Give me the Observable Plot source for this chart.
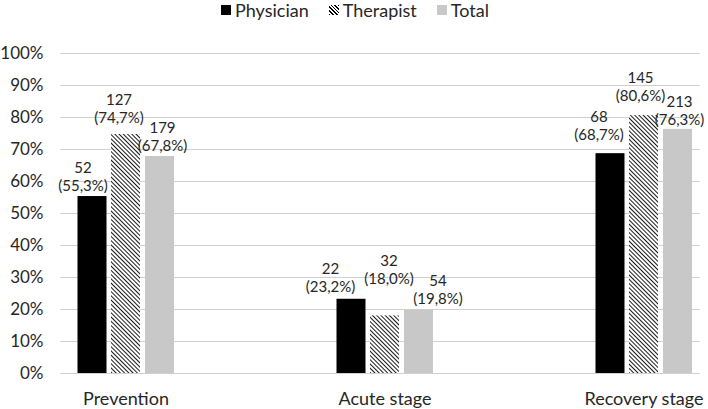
<!DOCTYPE html>
<html>
<head>
<meta charset="utf-8">
<script src="https://cdn.jsdelivr.net/npm/d3@7"></script>
<script src="https://cdn.jsdelivr.net/npm/@observablehq/plot@0.6"></script>
<style>
  body { margin: 0; background: #fff; font-family: Lato, sans-serif; color: #262626; }
  #legend { height: 20px; display: flex; justify-content: center; align-items: center; gap: 20px; font-size: 18px; padding-left: 2px; }
  .item { display: flex; align-items: center; gap: 4px; }
  .sw { width: 10px; height: 10px; display: inline-block; }
  #chart svg { display: block; }
</style>
</head>
<body>
<div id="legend"></div>
<div id="chart"></div>
<script>
const categories = ["Prevention", "Acute stage", "Recovery stage"];
const seriesNames = ["Physician", "Therapist", "Total"];
const physicianN = [52, 22, 68];
const physicianPct = [55.3, 23.2, 68.7];
const therapistN = [127, 32, 145];
const therapistPct = [74.7, 18.0, 80.6];
const totalN = [179, 54, 213];
const totalPct = [67.8, 19.8, 76.3];
const yTicks = [0, 10, 20, 30, 40, 50, 60, 70, 80, 90, 100];

const seriesData = {
  Physician: {n: physicianN, pct: physicianPct},
  Therapist: {n: therapistN, pct: therapistPct},
  Total: {n: totalN, pct: totalPct}
};

// styling / layout (not data)
const fills = {Physician: "#000000", Therapist: "url(#hatch)", Total: "#c8c8c8"};
const barDx = {Physician: -33.5, Therapist: 0, Total: 34};
// manual label placement, as in the original chart: [dx from bar centre, gap above bar top]
const labelPlacement = {
  "Physician|Prevention": [-9.5, 10], "Therapist|Prevention": [-7, 16], "Total|Prevention": [2.5, 10],
  "Physician|Acute stage": [-21, 12], "Therapist|Acute stage": [4, 37], "Total|Acute stage": [19, 11],
  "Physician|Recovery stage": [-11.5, 18], "Therapist|Recovery stage": [-3.5, 19], "Total|Recovery stage": [1.5, 9]
};
const lineGap = 18;

const rows = [];
for (const s of seriesNames) {
  categories.forEach((c, i) => rows.push({series: s, category: c, n: seriesData[s].n[i], pct: seriesData[s].pct[i]}));
}
const fmt = v => v.toFixed(1).replace(".", ",");

const marks = [Plot.ruleY(yTicks, {stroke: "#d0d0d0", strokeWidth: 1})];
for (const s of seriesNames) {
  const data = rows.filter(d => d.series === s);
  marks.push(Plot.barY(data, {x: "category", y: "pct", fill: fills[s], insetLeft: 115, insetRight: 115, dx: barDx[s]}));
}
for (const d of rows) {
  const [ldx, gap] = labelPlacement[d.series + "|" + d.category];
  const dx = barDx[d.series] + ldx;
  marks.push(Plot.text([d], {x: "category", y: "pct", text: r => `(${fmt(r.pct)}%)`, dx, dy: -gap, lineAnchor: "middle", fontSize: 15, fill: "#262626"}));
  marks.push(Plot.text([d], {x: "category", y: "pct", text: r => String(r.n), dx, dy: -gap - lineGap, lineAnchor: "middle", fontSize: 15, fill: "#262626"}));
}
marks.push(Plot.axisY({ticks: yTicks, tickFormat: d => d + "%", tickSize: 0, tickPadding: 17, fontSize: 17, label: null}));
marks.push(Plot.axisX({tickSize: 0, tickPadding: 19, fontSize: 18, label: null}));

const svg = Plot.plot({
  width: 708,
  height: 389,
  marginLeft: 60,
  marginRight: 8,
  marginTop: 33,
  marginBottom: 36,
  style: {fontFamily: "Lato, sans-serif", color: "#262626", background: "#fff"},
  x: {type: "band", domain: categories, range: [-4.5, 772.5], padding: 0},
  y: {domain: [0, 100]},
  marks
});

const defs = d3.select(svg).insert("defs", ":first-child");
const pat = defs.append("pattern").attr("id", "hatch").attr("patternUnits", "userSpaceOnUse")
  .attr("width", 3).attr("height", 3).attr("patternTransform", "rotate(-45)");
pat.append("rect").attr("width", 3).attr("height", 3).attr("fill", "#fff");
pat.append("line").attr("x1", 0).attr("y1", 0).attr("x2", 0).attr("y2", 3).attr("stroke", "#000").attr("stroke-width", 1.8);

document.getElementById("chart").appendChild(svg);

const legend = d3.select("#legend");
const swatchStyle = {
  Physician: "background:#000;",
  Therapist: "background: repeating-linear-gradient(45deg, #000 0 1.3px, #fff 1.3px 2.6px);",
  Total: "background:#c8c8c8;"
};
for (const s of seriesNames) {
  const it = legend.append("div").attr("class", "item");
  it.append("span").attr("class", "sw").attr("style", swatchStyle[s]);
  it.append("span").text(s);
}
</script>
</body>
</html>
